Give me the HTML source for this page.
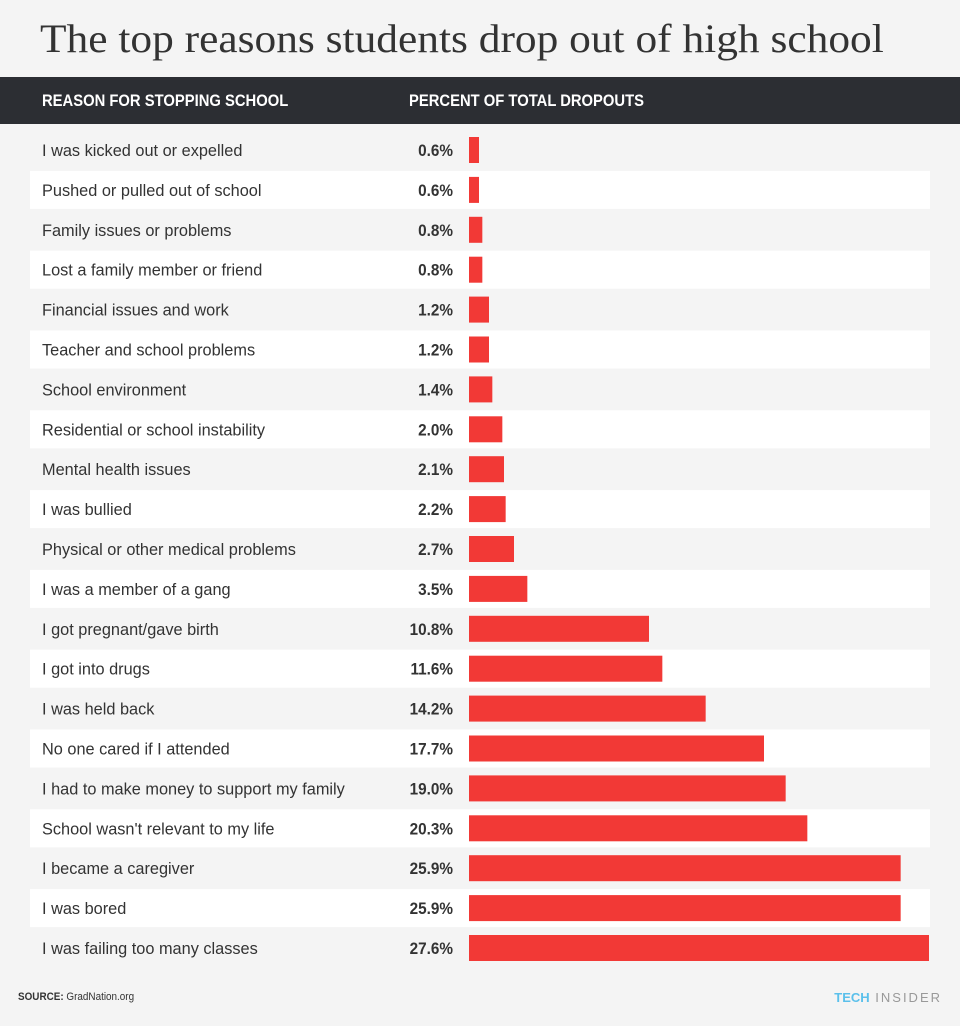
<!DOCTYPE html>
<html><head><meta charset="utf-8"><style>
body{margin:0;width:960px;height:1026px;background:#f4f4f4;font-family:"Liberation Sans",sans-serif;color:#333;overflow:hidden;position:relative}
#title{position:absolute;left:40px;top:15px;font-family:"Liberation Serif",serif;font-size:40px;color:#333;white-space:nowrap;transform:scaleX(1.085);transform-origin:left top}
#hdr{position:absolute;left:0;top:77px;width:960px;height:47px;background:#2c2e33;color:#fff;font-weight:bold;font-size:17px}
#hdr span{position:absolute;top:14px;transform:scaleX(0.87);transform-origin:left top;white-space:nowrap}
#source{position:absolute;left:18px;top:991px;font-size:11px;color:#333;transform:scaleX(0.9);transform-origin:left top}
#logo{position:absolute;right:18px;top:990px;font-size:13px;letter-spacing:2px;color:#999}
</style></head><body>
<div id="title">The top reasons students drop out of high school</div>
<div id="hdr"><span style="left:42px">REASON FOR STOPPING SCHOOL</span><span style="left:409px">PERCENT OF TOTAL DROPOUTS</span></div>
<svg id="chart" width="960" height="1026" style="position:absolute;left:0;top:0"></svg>
<div id="source"><b>SOURCE:</b> GradNation.org</div>
<div id="logo"><b style="color:#5bc0eb;letter-spacing:0">TECH</b> INSIDER</div>
<script>
const categories=["I was kicked out or expelled","Pushed or pulled out of school","Family issues or problems","Lost a family member or friend","Financial issues and work","Teacher and school problems","School environment","Residential or school instability","Mental health issues","I was bullied","Physical or other medical problems","I was a member of a gang","I got pregnant/gave birth","I got into drugs","I was held back","No one cared if I attended","I had to make money to support my family","School wasn't relevant to my life","I became a caregiver","I was bored","I was failing too many classes"];
const values=[0.6,0.6,0.8,0.8,1.2,1.2,1.4,2.0,2.1,2.2,2.7,3.5,10.8,11.6,14.2,17.7,19.0,20.3,25.9,25.9,27.6];
const svg=document.getElementById('chart');
const NS="http://www.w3.org/2000/svg";
const maxV=Math.max(...values);
const x=v=>460*v/maxV;
const y=i=>150+i*39.9;
categories.forEach((c,i)=>{
  const cy=y(i);
  if(i%2===1){
    const s=document.createElementNS(NS,'rect');
    s.setAttribute('x',30);s.setAttribute('y',cy-19);s.setAttribute('width',900);s.setAttribute('height',38);s.setAttribute('fill','#fff');
    
    
    svg.appendChild(s);
  }
  const g1=document.createElementNS(NS,'g');
  g1.setAttribute('transform','translate(42,'+(cy+6)+') scale(0.96,1)');
  const t=document.createElementNS(NS,'text');
  t.setAttribute('x',0);t.setAttribute('y',0);t.setAttribute('font-size','17');t.setAttribute('fill','#333');t.textContent=c;
  
  
  g1.appendChild(t);svg.appendChild(g1);
  const g2=document.createElementNS(NS,'g');
  g2.setAttribute('transform','translate(453,'+(cy+6)+') scale(0.9,1)');
  const v=document.createElementNS(NS,'text');
  v.setAttribute('x',0);v.setAttribute('y',0);v.setAttribute('text-anchor','end');v.setAttribute('font-size','17');v.setAttribute('font-weight','bold');v.setAttribute('fill','#333');v.textContent=values[i].toFixed(1)+'%';
  
  
  g2.appendChild(v);svg.appendChild(g2);
  const b=document.createElementNS(NS,'rect');
  b.setAttribute('x',469);b.setAttribute('y',cy-13);b.setAttribute('width',x(values[i]));b.setAttribute('height',26);b.setAttribute('fill','#f23936');
  
  
  svg.appendChild(b);
});
</script>
</body></html>
